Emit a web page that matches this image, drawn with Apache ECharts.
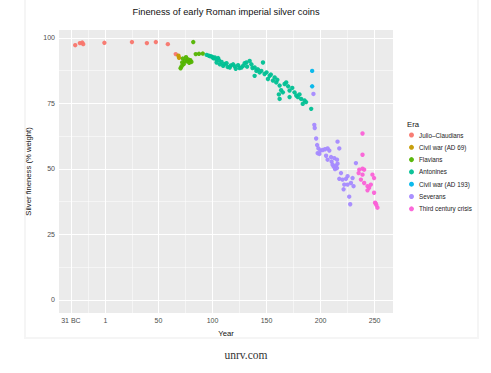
<!DOCTYPE html>
<html>
<head>
<meta charset="utf-8">
<title>Fineness of early Roman imperial silver coins</title>
<script src="https://cdn.jsdelivr.net/npm/echarts@6/dist/echarts.min.js"></script>
<style>
  html, body { margin: 0; padding: 0; background: #fff; }
  #chart { width: 491px; height: 373px; }
</style>
</head>
<body>
<div id="chart"></div>
<script>
// eras in legend order, with the ggplot hue colours
const eras = ['Julio\u2013Claudians', 'Civil war (AD 69)', 'Flavians', 'Antonines', 'Civil war (AD 193)', 'Severans', 'Third century crisis'];
const eraColors = ['#F8766D', '#C49A00', '#53B400', '#00C094', '#00B6EB', '#A58AFF', '#FB61D7'];

// [year, silver fineness %]
const julioClaudians = [
  [-27, 97.2], [-22.7, 98.0], [-20.5, 98.2], [-19.6, 97.6], [0, 98.1],
  [25.5, 98.4], [39.3, 98.0], [47.6, 98.4], [58.7, 97.6], [66, 93.8]
];
const civilWar69 = [[68.5, 93.2], [69, 92.4]];
const flavians = [
  [70.5, 88.4], [71.5, 89.2], [72, 90.6], [72.5, 92.1], [73.5, 90.0], [74.5, 91.2],
  [75.5, 92.6], [76.5, 91.0], [77.5, 91.8], [78.5, 90.5], [79.5, 91.5], [80.5, 90.8],
  [82.2, 98.4], [84.5, 93.8], [87.5, 93.9], [91, 94.0]
];
const antonines = [
  [94.6, 93.5], [96.5, 93.2], [97.6, 93.0], [99, 92.9], [100.1, 92.6], [101, 92.2],
  [102.2, 92.5], [103.5, 91.8], [103.8, 90.6], [105.2, 92.3], [106, 91.5], [106.8, 89.9],
  [108.4, 90.8], [109.9, 89.3], [111, 90.0], [113, 90.3], [114, 88.9], [116, 88.7],
  [117, 89.5], [119.1, 89.9], [120.6, 89.1], [121.5, 88.2], [123.7, 89.6], [125, 88.5],
  [126.8, 88.7], [128.3, 89.3], [129.8, 90.3], [131.4, 90.6], [132, 89.0], [134.4, 91.2],
  [136, 89.9], [137, 88.5], [139, 88.7], [139, 85.5], [140.6, 87.4], [142, 88.0],
  [143.6, 86.8], [145.2, 87.4], [146.7, 90.6], [148.2, 86.2], [150, 86.8], [151.3, 84.3],
  [152.9, 85.5], [154, 86.0], [155.9, 83.7], [157.5, 84.9], [159, 83.0], [160, 84.0],
  [161.4, 78.4], [162.1, 76.7], [162.1, 81.8], [163.5, 80.0], [165.1, 79.2], [166.7, 82.4],
  [168.2, 83.0], [170, 81.5], [171.3, 79.9], [173.8, 80.9], [171.3, 77.4], [175.9, 79.2],
  [177.5, 78.0], [178.9, 77.4], [180.5, 78.4], [182, 76.7], [183.5, 74.8], [185.1, 76.1],
  [186.6, 75.5], [191.3, 72.9]
];
const civilWar193 = [[192.2, 87.4], [192.2, 81.5]];
const severans = [
  [193.4, 78.6], [194.2, 66.8], [194.6, 65.6], [195.9, 61.6], [196.8, 59.1], [197.3, 56.0],
  [198, 57.8], [198.9, 55.7], [199.8, 57.0], [201.9, 57.2], [204.1, 57.5], [206.5, 57.8],
  [208.1, 57.0], [205.1, 55.0], [206.5, 53.5], [209.7, 54.5], [210.2, 52.8], [212.7, 54.1],
  [215.7, 60.4], [217.3, 57.8], [211.1, 51.6], [212.1, 50.9], [214.3, 51.2], [213.4, 49.9],
  [215.2, 50.3], [215.7, 52.0], [215.2, 53.5], [218.9, 48.4], [217.3, 46.2], [220.3, 45.9],
  [223.5, 46.2], [221.9, 44.0], [225, 44.0], [221.3, 42.2], [225, 47.2], [229.6, 46.5],
  [228.1, 44.6], [230.5, 43.4], [226.5, 39.4], [227.4, 36.5], [232.7, 52.2]
];
const thirdCenturyCrisis = [
  [238.8, 63.5], [238.8, 55.4], [235.8, 49.7], [238.8, 50.1], [240.3, 49.7], [235.2, 48.4],
  [238.8, 47.8], [248, 47.8], [249.5, 46.5], [237.3, 45.9], [240.3, 44.6], [243.4, 43.4],
  [246.5, 44.0], [244.9, 42.8], [243.4, 41.8], [249.5, 40.9], [250.4, 37.1], [251.6, 36.2],
  [252.6, 35.2], [251, 36.8]
];
const eraData = [julioClaudians, civilWar69, flavians, antonines, civilWar193, severans, thirdCenturyCrisis];

// axis ticks and grid lines
const xTicks = [-31, 1, 50, 100, 150, 200, 250];
const xTickLabels = ['31 BC', '1', '50', '100', '150', '200', '250'];
const xMinor = [-15, 25.5, 75, 125, 175, 225];
const yTicks = [0, 25, 50, 75, 100];
const yMinor = [12.5, 37.5, 62.5, 87.5];

const chart = echarts.init(document.getElementById('chart'), null, { renderer: 'svg' });

const gridLines = []
  .concat(xMinor.map(v => ({ xAxis: v, lineStyle: { width: 0.5 } })))
  .concat(yMinor.map(v => ({ yAxis: v, lineStyle: { width: 0.5 } })))
  .concat(xTicks.map(v => ({ xAxis: v, lineStyle: { width: 1 } })))
  .concat(yTicks.map(v => ({ yAxis: v, lineStyle: { width: 1 } })));

const font = 'Liberation Sans, Arial, sans-serif';

const series = eras.map((name, i) => ({
  name: name,
  type: 'scatter',
  data: eraData[i],
  symbol: 'circle',
  symbolSize: 4.4,
  itemStyle: { color: eraColors[i], opacity: 0.95 },
  z: 3
}));
series[0].markLine = {
  silent: true,
  symbol: 'none',
  z: 1,
  label: { show: false },
  lineStyle: { color: '#ffffff', type: 'solid' },
  emphasis: { disabled: true },
  animation: false,
  data: gridLines
};

chart.setOption({
  animation: false,
  textStyle: { fontFamily: font, fontWeight: 'normal' },
  grid: {
    left: 59, right: 98, top: 30, bottom: 60,
    show: true, backgroundColor: '#EBEBEB', borderWidth: 0,
    outerBoundsMode: 'none'
  },
  xAxis: {
    type: 'value',
    min: -42, max: 267,
    name: 'Year',
    nameLocation: 'middle',
    nameGap: 16,
    nameTextStyle: { fontSize: 7.7, color: '#111', fontWeight: 'normal', fontFamily: font },
    axisLine: { show: false },
    splitLine: { show: false },
    axisTick: { show: true, customValues: xTicks, length: 3, lineStyle: { color: '#333', width: 0.7 } },
    axisLabel: {
      customValues: xTicks,
      margin: 4,
      fontSize: 7,
      color: '#4d4d4d',
      fontFamily: font,
      formatter: v => xTickLabels[xTicks.indexOf(v)]
    }
  },
  yAxis: {
    type: 'value',
    min: -5, max: 103,
    name: 'Silver fineness (% weight)',
    nameLocation: 'middle',
    nameGap: 22,
    nameTextStyle: { fontSize: 7.7, color: '#111', fontWeight: 'normal', fontFamily: font },
    axisLine: { show: false },
    splitLine: { show: false },
    axisTick: { show: true, customValues: yTicks, length: 3, lineStyle: { color: '#333', width: 0.7 } },
    axisLabel: { customValues: yTicks, margin: 4, fontSize: 7, color: '#4d4d4d', fontFamily: font }
  },
  legend: {
    data: eras,
    orient: 'vertical',
    left: 409,
    top: 129,
    padding: 0,
    icon: 'circle',
    itemWidth: 5,
    itemHeight: 5,
    itemGap: 0.3,
    selectedMode: false,
    textStyle: { fontSize: 6.3, color: '#222', lineHeight: 12, fontFamily: font }
  },
  graphic: [
    {
      type: 'rect', silent: true,
      shape: { x: 25, y: -2, width: 453, height: 340 },
      style: { fill: 'none', stroke: '#f5f5f5', lineWidth: 2 }
    },
    {
      type: 'text', silent: true, x: 226, y: 12,
      style: {
        text: 'Fineness of early Roman imperial silver coins',
        fill: '#111', font: 'normal 9.3px ' + font, textAlign: 'center', textVerticalAlign: 'middle'
      }
    },
    {
      type: 'text', silent: true, x: 407, y: 124.5,
      style: { text: 'Era', fill: '#111', font: 'normal 7.7px ' + font, textAlign: 'left', textVerticalAlign: 'middle' }
    },
    {
      type: 'text', silent: true, x: 246, y: 355,
      style: {
        text: 'unrv.com', fill: '#333',
        font: 'normal 11.5px Liberation Serif, Times New Roman, serif',
        textAlign: 'center', textVerticalAlign: 'middle'
      }
    }
  ],
  series: series
});
</script>
</body>
</html>
